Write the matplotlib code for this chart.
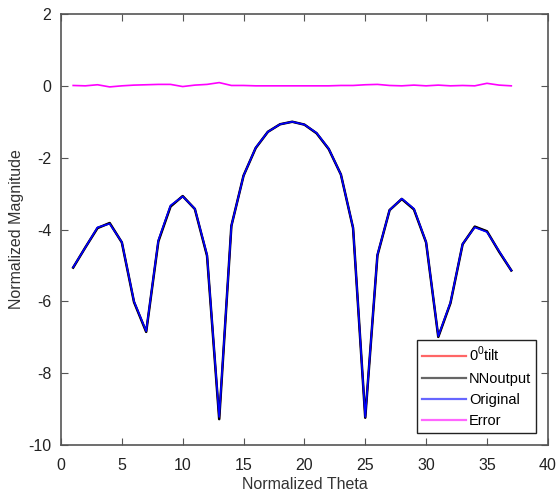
import numpy as np
import matplotlib
matplotlib.use('Agg')
import matplotlib.pyplot as plt

plt.rcParams['font.family'] = ['Liberation Sans', 'DejaVu Sans']
plt.rcParams['mathtext.fontset'] = 'custom'
plt.rcParams['mathtext.rm'] = 'Liberation Sans'
plt.rcParams['axes.unicode_minus'] = False

theta = np.arange(1, 38)
original = [-5.05, -4.5, -3.94, -3.84, -4.35, -6.0, -6.83, -4.3, -3.33, -3.08,
            -3.42, -4.7, -9.22, -3.9, -2.5, -1.72, -1.28, -1.07, -1.0, -1.08,
            -1.31, -1.75, -2.47, -3.95, -9.22, -4.7, -3.46, -3.14, -3.42, -4.35,
            -6.97, -6.03, -4.4, -3.94, -4.07, -4.6, -5.14]
nnoutput = [-5.06, -4.5, -3.96, -3.82, -4.36, -6.02, -6.85, -4.33, -3.36, -3.07,
            -3.43, -4.73, -9.28, -3.9, -2.5, -1.73, -1.28, -1.07, -1.0, -1.08,
            -1.32, -1.76, -2.47, -3.96, -9.24, -4.72, -3.46, -3.15, -3.44, -4.36,
            -6.99, -6.05, -4.41, -3.92, -4.05, -4.62, -5.14]
tilt0 = nnoutput
error = [0.01, 0.0, 0.03, -0.03, 0.0, 0.02, 0.03, 0.04, 0.04, -0.02,
         0.02, 0.04, 0.09, 0.01, 0.01, 0.0, 0.0, 0.0, 0.0, 0.0,
         0.0, 0.0, 0.01, 0.01, 0.03, 0.04, 0.01, 0.0, 0.02, 0.0,
         0.02, 0.0, 0.01, 0.0, 0.07, 0.02, 0.0]

fig = plt.figure(figsize=(5.57, 5.0), dpi=100)
ax = fig.add_axes([0.1095, 0.11, 0.874, 0.862])

ax.plot(theta, tilt0, color='#ff0000', lw=1.2, label='0$^{\\mathrm{0}}$tilt')
ax.plot(theta, nnoutput, color='#000000', lw=1.8, label='NNoutput')
ax.plot(theta, original, color='#0000ff', lw=1.2, label='Original')
ax.plot(theta, error, color='#ff00ff', lw=1.2, label='Error')

ax.set_xlim(0, 40)
ax.set_ylim(-10, 2)
ax.set_xticks(np.arange(0, 41, 5))
ax.set_yticks(np.arange(-10, 3, 2))
ax.tick_params(direction='in', top=True, right=True, length=5, labelsize=11.5,
               colors='#555555', labelcolor='#222222')
ax.tick_params(axis='x', pad=9)
ax.tick_params(axis='y', pad=7)
for s in ax.spines.values():
    s.set_color('#555555')
    s.set_linewidth(1.2)

ax.set_xlabel('Normalized Theta', fontsize=11.5, color='#333333', labelpad=3)
ax.set_ylabel('Normalized Magnitude', fontsize=11.5, color='#333333', labelpad=3)

leg = ax.legend(loc='lower right', fontsize=10.5, frameon=True, fancybox=False,
                edgecolor='#222222', framealpha=1, handlelength=3.0,
                handletextpad=0.2, labelspacing=0.5, borderpad=0.35,
                borderaxespad=0.8)
for ln in leg.get_lines():
    ln.set_alpha(0.6)
    ln.set_linewidth(1.6)

fig.savefig('out.png', dpi=100)
